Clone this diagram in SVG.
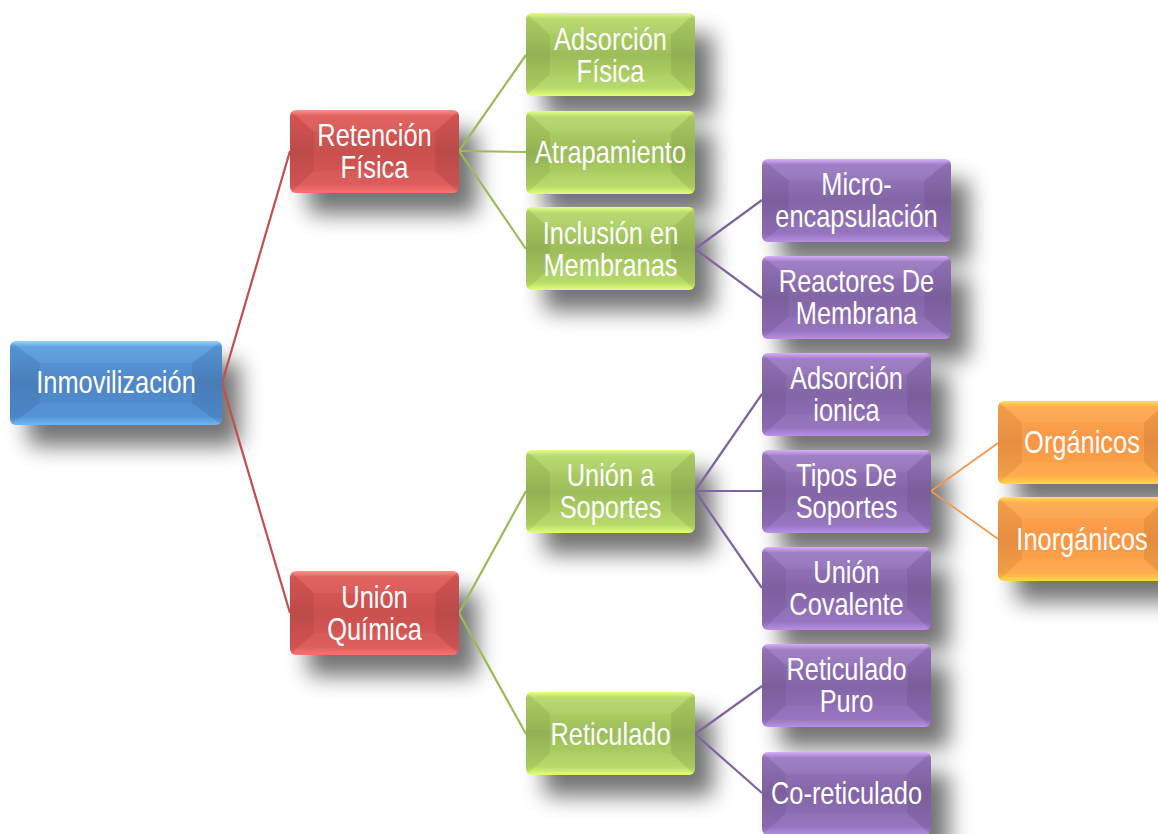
<svg xmlns="http://www.w3.org/2000/svg" xmlns:xlink="http://www.w3.org/1999/xlink" width="1158" height="834" viewBox="0 0 1158 834">
  <defs>
    <style>
      .lbl { font-family: "Liberation Sans", Arial, sans-serif; font-size: 31px; fill: #ffffff; text-anchor: middle; }
      .blue { fill: url(#gBlue); }
      .red { fill: url(#gRed); }
      .green { fill: url(#gGreen); }
      .purple { fill: url(#gPurple); }
      .orange { fill: url(#gOrange); }
      .shadow rect { fill: #000; }
      .conn line { fill: none; stroke-width: 2.2; }
      .c-red { stroke: #c0504d; }
      .c-green { stroke: #9bbb59; }
      .c-purple { stroke: #8064a2; }
      .c-orange { stroke: #f79646; stroke-width: 1.6 !important; }
    </style>
    <filter id="soft" x="-40%" y="-50%" width="180%" height="220%">
      <feGaussianBlur stdDeviation="11"/>
    </filter>
    <linearGradient id="gBlue" x1="0" y1="0" x2="0" y2="1">
      <stop offset="0" stop-color="#8fd2ff"/>
      <stop offset="0.07" stop-color="#5a9de0"/>
      <stop offset="0.5" stop-color="#4f86c6"/>
      <stop offset="0.9" stop-color="#4f8fd6"/>
      <stop offset="1" stop-color="#6ab4f5"/>
    </linearGradient>
    <linearGradient id="gRed" x1="0" y1="0" x2="0" y2="1">
      <stop offset="0" stop-color="#ff8a86"/>
      <stop offset="0.07" stop-color="#e05a57"/>
      <stop offset="0.5" stop-color="#c9504e"/>
      <stop offset="0.9" stop-color="#dc5856"/>
      <stop offset="1" stop-color="#ff6c68"/>
    </linearGradient>
    <linearGradient id="gGreen" x1="0" y1="0" x2="0" y2="1">
      <stop offset="0" stop-color="#e4ff7a"/>
      <stop offset="0.07" stop-color="#b5d868"/>
      <stop offset="0.5" stop-color="#9cbd5a"/>
      <stop offset="0.9" stop-color="#b4d965"/>
      <stop offset="1" stop-color="#e2ff72"/>
    </linearGradient>
    <linearGradient id="gPurple" x1="0" y1="0" x2="0" y2="1">
      <stop offset="0" stop-color="#d6a8ff"/>
      <stop offset="0.07" stop-color="#9a78c2"/>
      <stop offset="0.5" stop-color="#8366a6"/>
      <stop offset="0.9" stop-color="#9270bd"/>
      <stop offset="1" stop-color="#b58be6"/>
    </linearGradient>
    <linearGradient id="gOrange" x1="0" y1="0" x2="0" y2="1">
      <stop offset="0" stop-color="#ffe04a"/>
      <stop offset="0.07" stop-color="#ffa84c"/>
      <stop offset="0.5" stop-color="#f79646"/>
      <stop offset="0.9" stop-color="#ffa848"/>
      <stop offset="1" stop-color="#ffd83a"/>
    </linearGradient>
    <clipPath id="bevelClip" clipPathUnits="userSpaceOnUse">
      <rect x="0" y="0" width="170" height="84" rx="6"/>
    </clipPath>
    <!-- angled bevel faces laid over a box face -->
    <symbol id="bevel" viewBox="0 0 170 84" preserveAspectRatio="none">
      <g clip-path="url(#bevelClip)">
        <polygon points="0,0 24,22 24,62 0,84" fill="#000" fill-opacity="0.06"/>
        <polygon points="170,0 146,22 146,62 170,84" fill="#000" fill-opacity="0.07"/>
        <polygon points="0,0 170,0 146,22 24,22" fill="#fff" fill-opacity="0.06"/>
        <polygon points="0,84 170,84 146,62 24,62" fill="#fff" fill-opacity="0.04"/>
      </g>
    </symbol>
  </defs>

  <rect width="1158" height="834" fill="#ffffff"/>

  <!-- soft drop shadows under every box -->
  <g class="shadow" filter="url(#soft)" opacity="0.55">
    <rect x="28" y="362" width="212" height="84" rx="6"/>
    <rect x="308" y="131" width="169" height="83" rx="6"/>
    <rect x="308" y="592" width="169" height="84" rx="6"/>
    <rect x="544" y="34" width="169" height="83" rx="6"/>
    <rect x="544" y="132" width="169" height="83" rx="6"/>
    <rect x="544" y="228" width="169" height="83" rx="6"/>
    <rect x="544" y="471" width="169" height="83" rx="6"/>
    <rect x="544" y="713" width="169" height="83" rx="6"/>
    <rect x="780" y="180" width="189" height="83" rx="6"/>
    <rect x="780" y="277" width="189" height="83" rx="6"/>
    <rect x="780" y="374" width="169" height="83" rx="6"/>
    <rect x="780" y="471" width="169" height="83" rx="6"/>
    <rect x="780" y="568" width="169" height="83" rx="6"/>
    <rect x="780" y="665" width="169" height="83" rx="6"/>
    <rect x="780" y="773" width="169" height="83" rx="6"/>
    <rect x="1016" y="422" width="170" height="83" rx="6"/>
    <rect x="1016" y="518" width="170" height="84" rx="6"/>
  </g>

  <!-- connectors: right middle of parent to left middle of child -->
  <g id="connectors" class="conn">
    <line class="c-red" x1="222" y1="383" x2="290" y2="151"/>
    <line class="c-red" x1="222" y1="383" x2="290" y2="613"/>
    <line class="c-green" x1="459" y1="151" x2="526" y2="55"/>
    <line class="c-green" x1="459" y1="151" x2="526" y2="152"/>
    <line class="c-green" x1="459" y1="151" x2="526" y2="249"/>
    <line class="c-green" x1="459" y1="613" x2="526" y2="491"/>
    <line class="c-green" x1="459" y1="613" x2="526" y2="734"/>
    <line class="c-purple" x1="695" y1="249" x2="762" y2="200"/>
    <line class="c-purple" x1="695" y1="249" x2="762" y2="298"/>
    <line class="c-purple" x1="695" y1="491" x2="762" y2="394"/>
    <line class="c-purple" x1="695" y1="491" x2="762" y2="491"/>
    <line class="c-purple" x1="695" y1="491" x2="762" y2="588"/>
    <line class="c-purple" x1="695" y1="734" x2="762" y2="686"/>
    <line class="c-purple" x1="695" y1="734" x2="762" y2="793"/>
    <line class="c-orange" x1="931" y1="491" x2="998" y2="443"/>
    <line class="c-orange" x1="931" y1="491" x2="998" y2="539"/>
  </g>

  <!-- labels are condensed horizontally to a narrow face -->
  <g id="n-inmovilizacion">
    <rect class="blue" x="10" y="341" width="212" height="84" rx="6"/>
    <use xlink:href="#bevel" x="10" y="341" width="212" height="84"/>
    <text class="lbl" transform="translate(116 393) scale(0.82 1)">Inmovilización</text>
  </g>

  <g id="n-retencion">
    <rect class="red" x="290" y="110" width="169" height="83" rx="6"/>
    <use xlink:href="#bevel" x="290" y="110" width="169" height="83"/>
    <text class="lbl" transform="translate(374.5 146) scale(0.82 1)">Retención</text>
    <text class="lbl" transform="translate(374.5 178) scale(0.82 1)">Física</text>
  </g>

  <g id="n-union-quimica">
    <rect class="red" x="290" y="571" width="169" height="84" rx="6"/>
    <use xlink:href="#bevel" x="290" y="571" width="169" height="84"/>
    <text class="lbl" transform="translate(374.5 608) scale(0.82 1)">Unión</text>
    <text class="lbl" transform="translate(374.5 640) scale(0.82 1)">Química</text>
  </g>

  <g id="n-adsorcion-fisica">
    <rect class="green" x="526" y="13" width="169" height="83" rx="6"/>
    <use xlink:href="#bevel" x="526" y="13" width="169" height="83"/>
    <text class="lbl" transform="translate(610.5 50) scale(0.82 1)">Adsorción</text>
    <text class="lbl" transform="translate(610.5 82) scale(0.82 1)">Física</text>
  </g>

  <g id="n-atrapamiento">
    <rect class="green" x="526" y="111" width="169" height="83" rx="6"/>
    <use xlink:href="#bevel" x="526" y="111" width="169" height="83"/>
    <text class="lbl" transform="translate(610.5 163) scale(0.82 1)">Atrapamiento</text>
  </g>

  <g id="n-inclusion">
    <rect class="green" x="526" y="207" width="169" height="83" rx="6"/>
    <use xlink:href="#bevel" x="526" y="207" width="169" height="83"/>
    <text class="lbl" transform="translate(610.5 244) scale(0.82 1)">Inclusión en</text>
    <text class="lbl" transform="translate(610.5 276) scale(0.82 1)">Membranas</text>
  </g>

  <g id="n-union-soportes">
    <rect class="green" x="526" y="450" width="169" height="83" rx="6"/>
    <use xlink:href="#bevel" x="526" y="450" width="169" height="83"/>
    <text class="lbl" transform="translate(610.5 486) scale(0.82 1)">Unión a</text>
    <text class="lbl" transform="translate(610.5 518) scale(0.82 1)">Soportes</text>
  </g>

  <g id="n-reticulado">
    <rect class="green" x="526" y="692" width="169" height="83" rx="6"/>
    <use xlink:href="#bevel" x="526" y="692" width="169" height="83"/>
    <text class="lbl" transform="translate(610.5 745) scale(0.82 1)">Reticulado</text>
  </g>

  <g id="n-microencapsulacion">
    <rect class="purple" x="762" y="159" width="189" height="83" rx="6"/>
    <use xlink:href="#bevel" x="762" y="159" width="189" height="83"/>
    <text class="lbl" transform="translate(856.5 195) scale(0.82 1)">Micro-</text>
    <text class="lbl" transform="translate(856.5 227) scale(0.82 1)">encapsulación</text>
  </g>

  <g id="n-reactores">
    <rect class="purple" x="762" y="256" width="189" height="83" rx="6"/>
    <use xlink:href="#bevel" x="762" y="256" width="189" height="83"/>
    <text class="lbl" transform="translate(856.5 292) scale(0.82 1)">Reactores De</text>
    <text class="lbl" transform="translate(856.5 324) scale(0.82 1)">Membrana</text>
  </g>

  <g id="n-adsorcion-ionica">
    <rect class="purple" x="762" y="353" width="169" height="83" rx="6"/>
    <use xlink:href="#bevel" x="762" y="353" width="169" height="83"/>
    <text class="lbl" transform="translate(846.5 389) scale(0.82 1)">Adsorción</text>
    <text class="lbl" transform="translate(846.5 421) scale(0.82 1)">ionica</text>
  </g>

  <g id="n-tipos-soportes">
    <rect class="purple" x="762" y="450" width="169" height="83" rx="6"/>
    <use xlink:href="#bevel" x="762" y="450" width="169" height="83"/>
    <text class="lbl" transform="translate(846.5 486) scale(0.82 1)">Tipos De</text>
    <text class="lbl" transform="translate(846.5 518) scale(0.82 1)">Soportes</text>
  </g>

  <g id="n-union-covalente">
    <rect class="purple" x="762" y="547" width="169" height="83" rx="6"/>
    <use xlink:href="#bevel" x="762" y="547" width="169" height="83"/>
    <text class="lbl" transform="translate(846.5 583) scale(0.82 1)">Unión</text>
    <text class="lbl" transform="translate(846.5 615) scale(0.82 1)">Covalente</text>
  </g>

  <g id="n-reticulado-puro">
    <rect class="purple" x="762" y="644" width="169" height="83" rx="6"/>
    <use xlink:href="#bevel" x="762" y="644" width="169" height="83"/>
    <text class="lbl" transform="translate(846.5 680) scale(0.82 1)">Reticulado</text>
    <text class="lbl" transform="translate(846.5 712) scale(0.82 1)">Puro</text>
  </g>

  <g id="n-co-reticulado">
    <rect class="purple" x="762" y="752" width="169" height="83" rx="6"/>
    <use xlink:href="#bevel" x="762" y="752" width="169" height="83"/>
    <text class="lbl" transform="translate(846.5 804) scale(0.82 1)">Co-reticulado</text>
  </g>

  <g id="n-organicos">
    <rect class="orange" x="998" y="401" width="170" height="83" rx="6"/>
    <use xlink:href="#bevel" x="998" y="401" width="170" height="83"/>
    <text class="lbl" transform="translate(1082 453) scale(0.82 1)">Orgánicos</text>
  </g>

  <g id="n-inorganicos">
    <rect class="orange" x="998" y="497" width="170" height="84" rx="6"/>
    <use xlink:href="#bevel" x="998" y="497" width="170" height="84"/>
    <text class="lbl" transform="translate(1082 550) scale(0.82 1)">Inorgánicos</text>
  </g>
</svg>
